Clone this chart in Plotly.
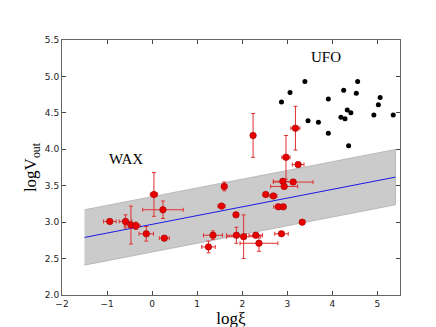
import plotly.graph_objects as go

# UFO sample (black points)
ufo_x = [2.87, 3.06, 3.39, 3.46, 3.69, 3.91, 3.91, 4.19, 4.25, 4.28, 4.33, 4.41, 4.36, 4.56, 4.53, 4.92, 5.02, 5.06, 5.35]
ufo_y = [4.65, 4.78, 4.93, 4.39, 4.37, 4.69, 4.22, 4.44, 4.81, 4.42, 4.54, 4.50, 4.05, 4.93, 4.77, 4.47, 4.61, 4.71, 4.47]

# WAX sample (red points with error bars)
wax_x = [-0.94, -0.59, -0.47, -0.36, -0.13, 0.04, 0.24, 0.27, 1.25, 1.35, 1.54, 1.60, 1.86, 1.87, 2.03,
         2.24, 2.30, 2.37, 2.52, 2.69, 2.80, 2.87, 2.90, 2.91, 2.93, 2.97, 3.13, 3.18, 3.24, 3.33]
wax_y = [3.01, 3.01, 2.96, 2.95, 2.84, 3.38, 3.17, 2.78, 2.66, 2.82, 3.22, 3.49, 3.10, 2.82, 2.80,
         4.19, 2.82, 2.71, 3.38, 3.36, 3.21, 2.84, 3.56, 3.21, 3.49, 3.89, 3.55, 4.29, 3.79, 3.00]
wax_xerr = [0.14, 0.14, 0.15, 0.09, 0.16, 0.08, 0.45, 0.11, 0.15, 0.21, 0.08, 0.03, 0.05, 0.22, 0.38,
            0.03, 0.15, 0.42, 0.0, 0.08, 0.10, 0.15, 0.21, 0.03, 0.30, 0.09, 0.44, 0.10, 0.13, 0.0]
wax_yerr = [0.02, 0.09, 0.26, 0.05, 0.10, 0.30, 0.12, 0.03, 0.08, 0.06, 0.03, 0.06, 0.02, 0.11, 0.30,
            0.30, 0.03, 0.11, 0.0, 0.03, 0.02, 0.02, 0.03, 0.02, 0.03, 0.30, 0.03, 0.30, 0.03, 0.02]

# Fitted relation and its scatter band
fit_slope = 0.12
fit_intercept = 2.97
band_half = 0.38
fit_xrange = [-1.5, 5.4]

x_ticks = [-2, -1, 0, 1, 2, 3, 4, 5]
y_ticks = [2.0, 2.5, 3.0, 3.5, 4.0, 4.5, 5.0, 5.5]

fit_y = [fit_intercept + fit_slope * v for v in fit_xrange]
band_x = fit_xrange + fit_xrange[::-1]
band_y = [y + band_half for y in fit_y] + [y - band_half for y in fit_y[::-1]]

fig = go.Figure()
fig.add_trace(go.Scatter(x=band_x, y=band_y, fill="toself", mode="lines",
                         fillcolor="#cbcbcb", line=dict(color="#b0b0b0", width=0.8),
                         hoverinfo="skip", showlegend=False))
fig.add_trace(go.Scatter(x=fit_xrange, y=fit_y, mode="lines",
                         line=dict(color="#1a1ae6", width=1), showlegend=False))
fig.add_trace(go.Scatter(x=ufo_x, y=ufo_y, mode="markers",
                         marker=dict(color="black", size=5), showlegend=False))
fig.add_trace(go.Scatter(x=wax_x, y=wax_y, mode="markers",
                         marker=dict(color="#e80000", size=6.5, line=dict(color="#a00000", width=0.6)),
                         error_x=dict(type="data", array=wax_xerr, color="#e03030", thickness=1, width=2),
                         error_y=dict(type="data", array=wax_yerr, color="#e03030", thickness=1, width=2),
                         showlegend=False))

fig.add_annotation(x=-0.59, y=3.86, text="WAX", showarrow=False,
                   font=dict(family="Liberation Serif", size=15, color="black"))
fig.add_annotation(x=3.85, y=5.26, text="UFO", showarrow=False,
                   font=dict(family="Liberation Serif", size=15, color="black"))

axis_common = dict(showgrid=False, zeroline=False, showline=True, linecolor="#666666", linewidth=1,
                   mirror="ticks", ticks="inside", ticklen=4, tickcolor="#444444",
                   tickfont=dict(family="DejaVu Sans", size=9, color="#222222"))
fig.update_xaxes(range=[-2, 5.5], tickvals=x_ticks, ticktext=[str(v).replace("-", "\u2212") for v in x_ticks],
                 title=dict(text="logξ", font=dict(family="Liberation Serif", size=17, color="black"), standoff=2),
                 **axis_common)
fig.update_yaxes(range=[2.0, 5.5], tickvals=y_ticks, ticktext=[f"{v:.1f}" for v in y_ticks],
                 title=dict(text="logV<sub>out</sub>", font=dict(family="Liberation Serif", size=17, color="black"), standoff=3),
                 **axis_common)
fig.update_layout(width=436, height=327, margin=dict(l=54, r=44, t=32, b=33),
                  plot_bgcolor="white", paper_bgcolor="white")
fig.write_html("out.html")
